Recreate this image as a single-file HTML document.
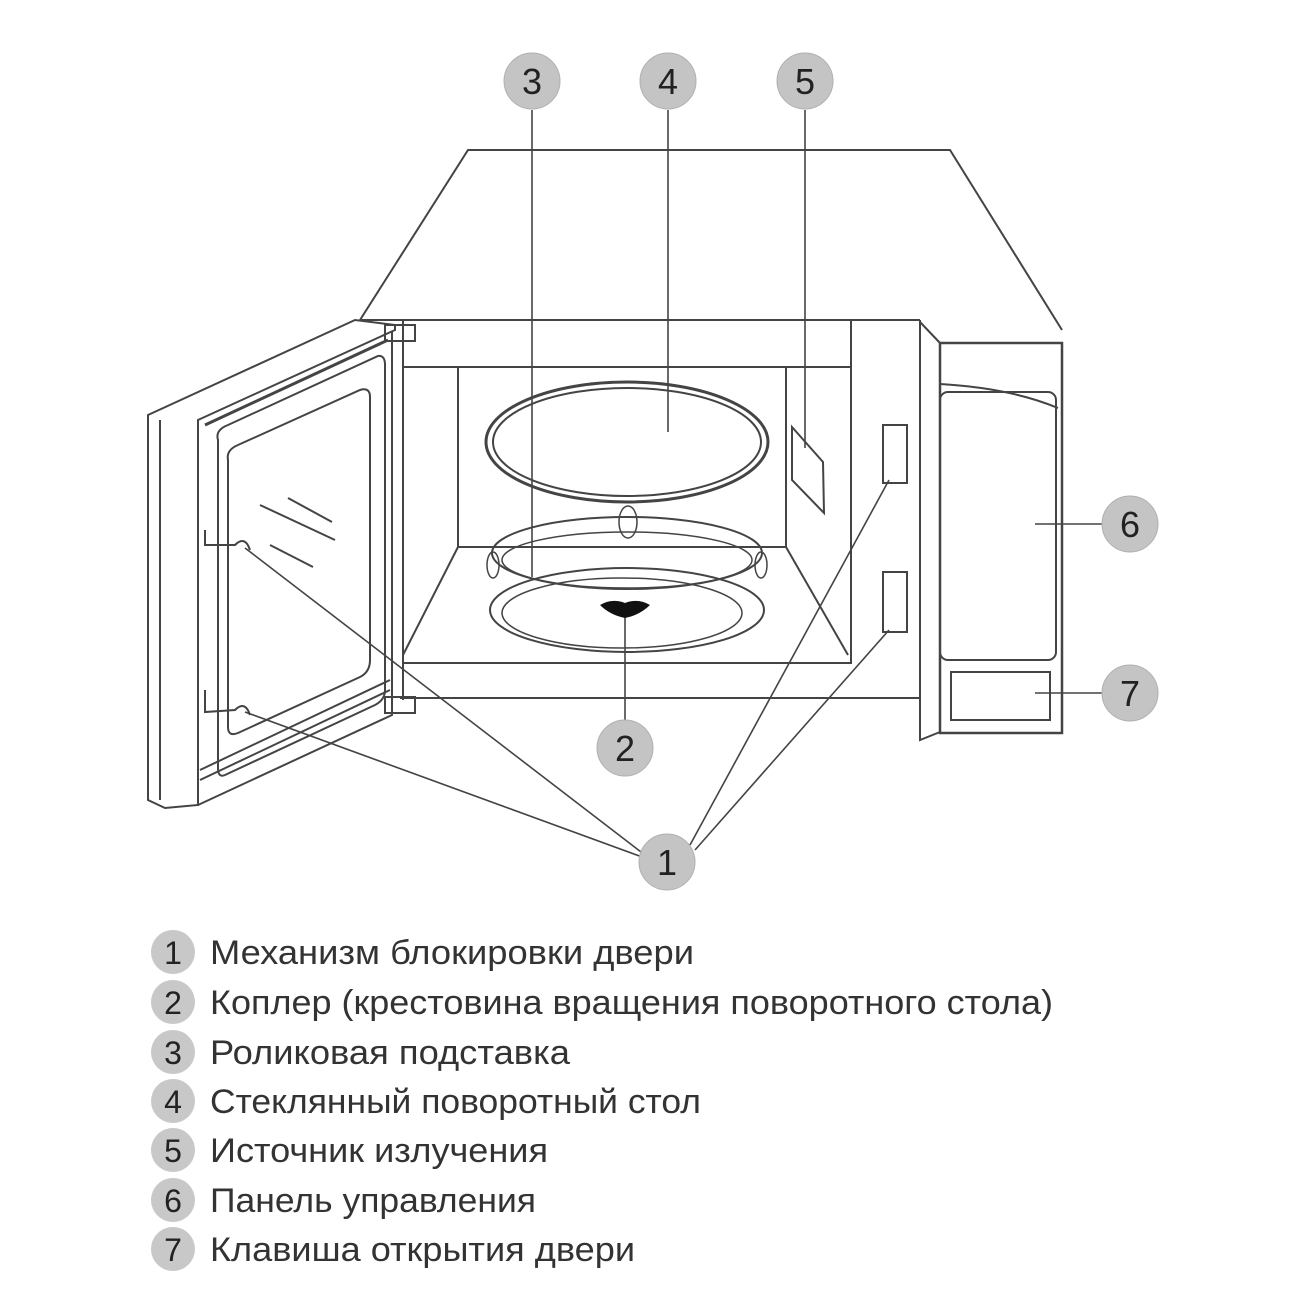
<!DOCTYPE html>
<html><head><meta charset="utf-8"><style>
html,body{margin:0;padding:0;background:#fff;width:1300px;height:1300px;overflow:hidden}
svg{display:block}
</style></head><body>
<svg width="1300" height="1300" viewBox="0 0 1300 1300" xmlns="http://www.w3.org/2000/svg" font-family="'Liberation Sans', 'DejaVu Sans', sans-serif">
<g fill="none" stroke="#444" stroke-width="2">
<polyline points="360,320 468,150 950,150 1062,330"/>
<line x1="360" y1="320" x2="920" y2="320"/>
<line x1="403" y1="320" x2="403" y2="700"/>
<line x1="400" y1="698" x2="920" y2="698"/>
<rect x="403" y="367" width="448" height="296"/>
<rect x="458" y="367" width="328" height="180"/>
<line x1="403" y1="655" x2="458" y2="547"/>
<line x1="786" y1="547" x2="848" y2="655"/>
<line x1="851" y1="320" x2="851" y2="367"/>
<ellipse cx="627" cy="442" rx="141" ry="60" stroke-width="3"/>
<ellipse cx="627" cy="442" rx="134" ry="54" stroke-width="2"/>
<ellipse cx="627" cy="553" rx="135" ry="36"/>
<ellipse cx="627" cy="560" rx="125" ry="28" stroke-width="1.5"/>
<ellipse cx="628" cy="522" rx="9" ry="16" stroke-width="1.5"/>
<ellipse cx="493" cy="565" rx="6" ry="13" stroke-width="1.5"/>
<ellipse cx="761" cy="565" rx="6" ry="13" stroke-width="1.5"/>
<ellipse cx="627" cy="610" rx="137" ry="42"/>
<ellipse cx="622" cy="613" rx="120" ry="35" stroke-width="1.5"/>
<polygon points="792,427 823,462 824,513 792,480"/>
<rect x="883" y="425" width="24" height="58"/>
<rect x="883" y="572" width="24" height="60"/>
<polyline points="920,320 920,740 940,732"/>
<line x1="920" y1="322" x2="940" y2="343"/>
<rect x="940" y="343" width="122" height="390" stroke-width="2.5"/>
<path d="M940,384 Q1010,388 1058,408"/>
<rect x="940" y="392" width="116" height="268" rx="8"/>
<rect x="951" y="672" width="99" height="48"/>
<polygon points="148,415 355,320 395,325 395,330 198,420 198,805 165,808 148,800"/>
<line x1="160" y1="420" x2="160" y2="800"/>
<line x1="198" y1="420" x2="198" y2="805"/>
<polyline points="198,805 392,715 392,332"/>
<line x1="205" y1="425" x2="388" y2="340" stroke-width="3"/>
<path d="M218,440 Q215,430 228,425 L378,356 Q385,355 385,365 L385,690 Q385,700 375,705 L225,775 Q218,778 218,768 Z"/>
<path d="M228,460 Q226,450 238,445 L360,390 Q370,387 370,397 L370,660 Q370,672 360,677 L238,733 Q228,737 228,727 Z"/>
<line x1="260" y1="505" x2="335" y2="540"/>
<line x1="288" y1="498" x2="332" y2="522"/>
<line x1="270" y1="545" x2="313" y2="567"/>
<path d="M205,530 L205,545 L235,545 Q245,535 250,550"/>
<path d="M205,690 L205,712 L235,710 Q245,700 250,715"/>
<line x1="200" y1="770" x2="390" y2="680"/>
<line x1="200" y1="780" x2="390" y2="690"/>
<rect x="385" y="325" width="30" height="16"/>
<rect x="385" y="697" width="30" height="16"/>
</g>
<g stroke="#444" stroke-width="1.6">
<line x1="532" y1="110" x2="532" y2="577"/>
<line x1="668" y1="110" x2="668" y2="432"/>
<line x1="805" y1="110" x2="805" y2="448"/>
<line x1="1035" y1="524" x2="1102" y2="524"/>
<line x1="1035" y1="693" x2="1102" y2="693"/>
<line x1="625" y1="605" x2="625" y2="720"/>
<line x1="645" y1="855" x2="245" y2="548"/>
<line x1="645" y1="858" x2="245" y2="712"/>
<line x1="690" y1="845" x2="889" y2="480"/>
<line x1="695" y1="850" x2="889" y2="630"/>
</g>
<path d="M600,605 Q612,598 625,603 Q638,598 650,605 Q640,615 625,618 Q610,615 600,605Z" fill="#111"/>
<g fill="#c4c4c4" stroke="#b0b0b0" stroke-width="1">
<circle cx="532" cy="81" r="28"/><circle cx="668" cy="81" r="28"/><circle cx="805" cy="81" r="28"/>
<circle cx="1130" cy="524" r="28"/><circle cx="1130" cy="693" r="28"/>
<circle cx="625" cy="748" r="28"/><circle cx="667" cy="862" r="28"/>
</g>
<g fill="#222" font-size="36" text-anchor="middle">
<text x="532" y="94">3</text><text x="668" y="94">4</text><text x="805" y="94">5</text>
<text x="1130" y="537">6</text><text x="1130" y="706">7</text>
<text x="625" y="761">2</text><text x="667" y="875">1</text>
</g>
<g fill="#c8c8c8">
<circle cx="173" cy="952" r="22"/><circle cx="173" cy="1002" r="22"/><circle cx="173" cy="1052" r="22"/>
<circle cx="173" cy="1101" r="22"/><circle cx="173" cy="1150" r="22"/><circle cx="173" cy="1200" r="22"/><circle cx="173" cy="1249" r="22"/>
</g>
<g fill="#222" font-size="32" text-anchor="middle">
<text x="173" y="964">1</text><text x="173" y="1014">2</text><text x="173" y="1064">3</text><text x="173" y="1113">4</text>
<text x="173" y="1162">5</text><text x="173" y="1212">6</text><text x="173" y="1261">7</text>
</g>
<g fill="#333" font-size="34">
<text x="210" y="964" textLength="484" lengthAdjust="spacingAndGlyphs">Механизм блокировки двери</text>
<text x="210" y="1014" textLength="843" lengthAdjust="spacingAndGlyphs">Коплер (крестовина вращения поворотного стола)</text>
<text x="210" y="1064" textLength="360" lengthAdjust="spacingAndGlyphs">Роликовая подставка</text>
<text x="210" y="1113" textLength="491" lengthAdjust="spacingAndGlyphs">Стеклянный поворотный стол</text>
<text x="210" y="1162" textLength="338" lengthAdjust="spacingAndGlyphs">Источник излучения</text>
<text x="210" y="1212" textLength="326" lengthAdjust="spacingAndGlyphs">Панель управления</text>
<text x="210" y="1261" textLength="425" lengthAdjust="spacingAndGlyphs">Клавиша открытия двери</text>
</g>
</svg>
</body></html>
